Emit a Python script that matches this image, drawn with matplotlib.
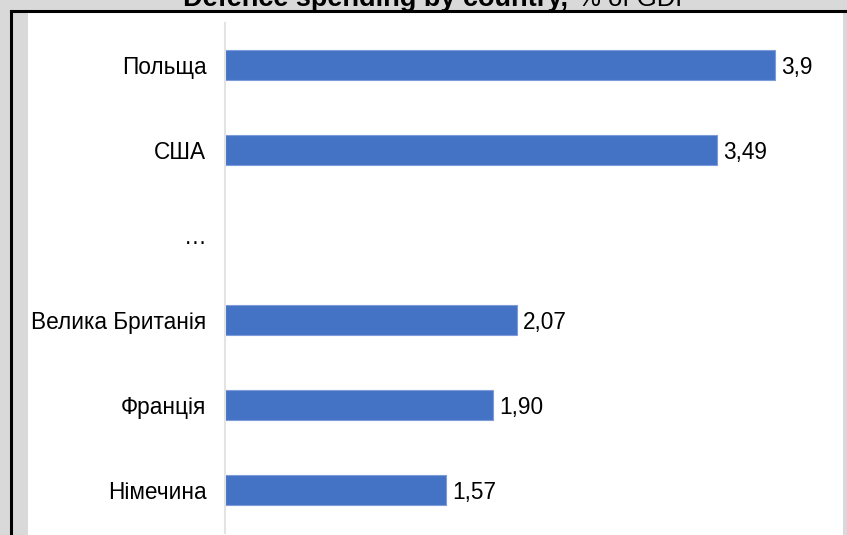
import numpy as np
import matplotlib
matplotlib.use("Agg")
import matplotlib.pyplot as plt
from matplotlib.patches import Rectangle

plt.rcParams['font.family'] = ['Liberation Sans', 'DejaVu Sans']

# data
countries = ["Польща", "США", "…", "Велика Британія", "Франція", "Німечина"]
spending = [3.9, 3.49, np.nan, 2.07, 1.90, 1.57]
value_labels = ["3,9", "3,49", "", "2,07", "1,90", "1,57"]

W, H = 847, 535
fig = plt.figure(figsize=(W / 100, H / 100), dpi=100, facecolor='#d9d9d9')


def fx(px):
    return px / W


def fy(py):
    # py measured from the top of the image
    return 1 - py / H


# white chart area and the black frame lines of the screenshot
fig.add_artist(Rectangle((fx(28), 0), fx(843) - fx(28), fy(12),
                         transform=fig.transFigure, facecolor='white',
                         edgecolor='none', zorder=0))
fig.add_artist(plt.Line2D([fx(10.5), 1], [fy(10.5), fy(10.5)],
                          transform=fig.transFigure, color='black', lw=2.2))
fig.add_artist(plt.Line2D([fx(10.5), fx(10.5)], [0, fy(10.5)],
                          transform=fig.transFigure, color='black', lw=2.2))

# title, mostly cut off at the top
fig.text(fx(568), fy(6), "Defence spending by country,", ha='right',
         va='baseline', fontsize=19.5, fontweight='bold', color='black')
fig.text(fx(578), fy(6), "% of GDP", ha='left', va='baseline',
         fontsize=18.5, color='black')

ax = fig.add_axes([fx(225), fy(532.5), fx(820) - fx(225), fy(22.5) - fy(532.5)])
ax.set_facecolor('none')

y = np.arange(len(countries))
vals = np.array(spending, dtype=float)
bars = ax.barh(y, np.nan_to_num(vals), height=0.35, color='#4472C4',
               edgecolor='#7d9bd8', linewidth=0.8)
for b, v, lab in zip(bars, vals, value_labels):
    if np.isnan(v):
        b.set_visible(False)
        continue
    ax.annotate(lab, (v, b.get_y() + b.get_height() / 2), xytext=(4.5, 0),
                textcoords='offset points', ha='left', va='center_baseline',
                fontsize=16.3, color='black')

ax.set_xlim(0, 595 / 141.0)
ax.set_ylim(len(countries) - 0.5, -0.5)
ax.set_yticks(y)
ax.set_yticklabels(countries, fontsize=16.3)
for t in ax.get_yticklabels():
    t.set_va('center_baseline')
ax.tick_params(axis='y', length=0, pad=13.5)
ax.set_xticks([])
for side in ['top', 'right', 'bottom']:
    ax.spines[side].set_visible(False)
ax.spines['left'].set_color('#e3e3e3')
ax.spines['left'].set_linewidth(1.5)

fig.savefig("out.png", dpi=100, facecolor=fig.get_facecolor())
